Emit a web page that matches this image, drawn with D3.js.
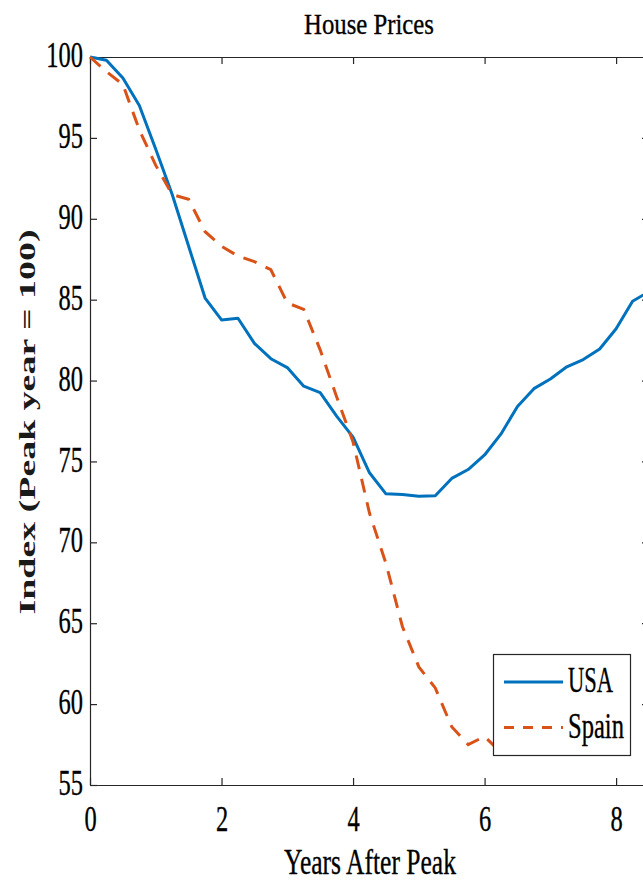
<!DOCTYPE html>
<html>
<head>
<meta charset="utf-8">
<script src="https://cdn.jsdelivr.net/npm/d3@7"></script>
<style>
  body { margin: 0; background: #fff; }
</style>
</head>
<body>
<div class="container"></div>
<script>
// chart data (quarterly points)
const years = [0, 0.25, 0.5, 0.75, 1, 1.25, 1.5, 1.75, 2, 2.25, 2.5, 2.75, 3, 3.25, 3.5, 3.75,
  4, 4.25, 4.5, 4.75, 5, 5.25, 5.5, 5.75, 6, 6.25, 6.5, 6.75, 7, 7.25, 7.5, 7.75, 8, 8.25, 8.5];
const usa = [100, 99.8, 98.7, 97.0, 94.3, 91.5, 88.3, 85.1, 83.75, 83.85, 82.3, 81.35, 80.8, 79.65, 79.25, 77.8,
  76.5, 74.3, 73.0, 72.95, 72.85, 72.88, 73.95, 74.5, 75.4, 76.7, 78.4, 79.5, 80.1, 80.85, 81.3, 81.95, 83.2, 84.9, 85.5];
const spain = [100, 99.1, 98.3, 95.5, 93.3, 91.5, 91.2, 89.2, 88.3, 87.7, 87.35, 86.85, 84.8, 84.4, 81.9, 79.0,
  76.2, 71.8, 68.7, 64.8, 62.3, 61.0, 58.6, 57.5, 58.0, 57.0];
const xTicks = [0, 2, 4, 6, 8];
const yTicks = [55, 60, 65, 70, 75, 80, 85, 90, 95, 100];
const seriesNames = ["USA", "Spain"];

const width = 643;
const height = 882;
const margin = { top: 57, bottom: 97, left: 90, right: -6 };
const axisColor = "#262626";
const font = "'Liberation Serif', 'Times New Roman', serif";

const svg = d3.select(".container")
  .append("svg")
  .attr("width", width)
  .attr("height", height);

const xScale = d3.scaleLinear()
  .domain([0, 8.5])
  .range([margin.left, width - margin.right]);

const yScale = d3.scaleLinear()
  .domain([55, 100])
  .range([height - margin.bottom, margin.top]);

// squeeze a text sideways around its anchor point so it gets the narrow look of the original
function squeezeText(sel, sx) {
  sel.each(function() {
    const x = +(this.getAttribute("x") || 0);
    d3.select(this).attr("transform", `translate(${x},0) scale(${sx},1) translate(${-x},0)`);
  });
}

// place a text and squeeze it to a target width
function fitText(g, str, x, y, size, targetW, anchor) {
  const t = g.append("text")
    .attr("text-anchor", anchor)
    .attr("font-family", font)
    .attr("font-size", size)
    .attr("fill", "#000")
    .attr("stroke", "#000")
    .attr("stroke-width", 0.35)
    .text(str);
  const w = t.node().getComputedTextLength();
  t.attr("transform", `translate(${x},${y}) scale(${targetW / w},1)`);
  return t;
}

// bottom axis with labels
const xAxisG = svg.append("g")
  .attr("transform", `translate(0, ${yScale(55)})`)
  .call(d3.axisBottom(xScale).tickValues(xTicks).tickSizeInner(-7).tickSizeOuter(0).tickPadding(21));

// left axis with labels
const yAxisG = svg.append("g")
  .attr("transform", `translate(${xScale(0)}, 0)`)
  .call(d3.axisLeft(yScale).tickValues(yTicks).tickSizeInner(-7).tickSizeOuter(0).tickPadding(7));

// top and right axes, ticks only
svg.append("g")
  .attr("transform", `translate(0, ${yScale(100)})`)
  .call(d3.axisTop(xScale).tickValues(xTicks).tickSizeInner(-7).tickSizeOuter(0).tickFormat(""));
svg.append("g")
  .attr("transform", `translate(${xScale(8.5)}, 0)`)
  .call(d3.axisRight(yScale).tickValues(yTicks).tickSizeInner(-7).tickSizeOuter(0).tickFormat(""));

svg.selectAll(".domain, .tick line")
  .attr("stroke", axisColor)
  .attr("stroke-width", 1.2);

svg.selectAll(".tick text")
  .attr("font-family", font)
  .attr("font-size", 35.5)
  .attr("fill", "#000")
  .attr("stroke", "#000")
  .attr("stroke-width", 0.35)
  .call(squeezeText, 0.69);

yAxisG.selectAll("text").attr("dy", "0.27em");

// the two lines
const line = d3.line()
  .x((d, i) => xScale(years[i]))
  .y(d => yScale(d));

svg.append("path")
  .datum(usa)
  .attr("fill", "none")
  .attr("stroke", "#0072BD")
  .attr("stroke-width", 3)
  .attr("stroke-linejoin", "round")
  .attr("d", line);

svg.append("path")
  .datum(spain)
  .attr("fill", "none")
  .attr("stroke", "#D95319")
  .attr("stroke-width", 3)
  .attr("stroke-dasharray", "14,10")
  .attr("d", line);

// title and axis labels
fitText(svg, "House Prices", 369, 34, 30, 130, "middle");
fitText(svg, "Years After Peak", 370, 874, 36, 172, "middle");

svg.append("text")
  .attr("transform", "translate(35, 422) scale(0.62, 1) rotate(-90)")
  .attr("text-anchor", "middle")
  .attr("font-family", font)
  .attr("font-weight", "bold")
  .attr("font-size", 36)
  .attr("fill", "#1a1a1a")
  .attr("textLength", 385)
  .attr("lengthAdjust", "spacingAndGlyphs")
  .text("Index (Peak year = 100)");

// legend
const legend = svg.append("g");
legend.append("rect")
  .attr("x", 493.5)
  .attr("y", 654.5)
  .attr("width", 137)
  .attr("height", 101)
  .attr("fill", "#fff")
  .attr("stroke", axisColor)
  .attr("stroke-width", 1.2);

const legendRows = [
  { name: seriesNames[0], color: "#0072BD", dash: null, y: 682, len: 45 },
  { name: seriesNames[1], color: "#D95319", dash: "10,9", y: 727.5, len: 56 }
];

legendRows.forEach(r => {
  legend.append("line")
    .attr("x1", 504).attr("x2", 563)
    .attr("y1", r.y).attr("y2", r.y)
    .attr("stroke", r.color)
    .attr("stroke-width", 3)
    .attr("stroke-dasharray", r.dash);
  fitText(legend, r.name, 568, r.y + 10, 36, r.len, "start");
});
</script>
</body>
</html>
